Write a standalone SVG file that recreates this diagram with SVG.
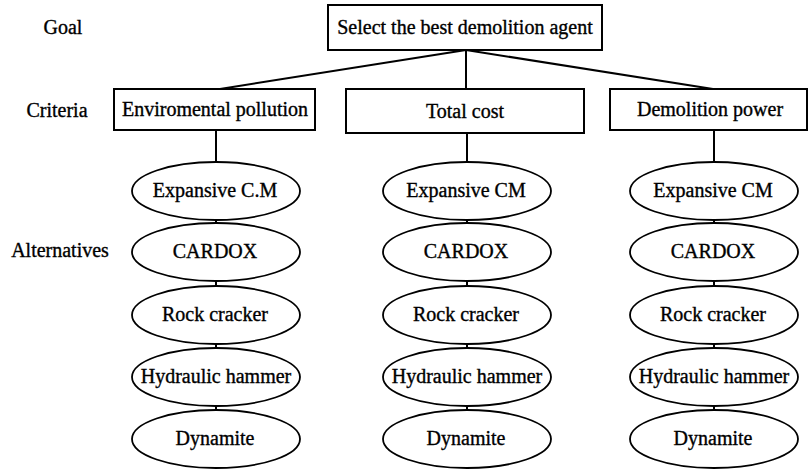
<svg xmlns="http://www.w3.org/2000/svg" width="812" height="471" viewBox="0 0 812 471">
<style>
text{font-family:"Liberation Serif","Times New Roman",serif;font-size:20px;fill:#000;text-anchor:middle;stroke:#000;stroke-width:0.35}
.box{fill:#fff;stroke:#000;stroke-width:2}
.ell{fill:#fff;stroke:#000;stroke-width:1.8}
.con line{stroke:#000;stroke-width:2}
</style>
<rect width="812" height="471" fill="#fff"/>
<g id="level-labels">
<text x="63" y="34">Goal</text>
<text x="57" y="117">Criteria</text>
<text x="60" y="257">Alternatives</text>
</g>
<g class="con" id="connectors">
<line x1="466" y1="50" x2="220" y2="89"/>
<line x1="466" y1="50" x2="466" y2="89"/>
<line x1="466" y1="50" x2="713" y2="89"/>
<line x1="216" y1="130" x2="216" y2="162"/>
<line x1="467" y1="133" x2="467" y2="162"/>
<line x1="714" y1="130" x2="714" y2="162"/>
<line x1="216" y1="219" x2="216" y2="224"/>
<line x1="216" y1="281" x2="216" y2="287"/>
<line x1="216" y1="344" x2="216" y2="349"/>
<line x1="216" y1="406" x2="216" y2="411"/>
<line x1="467" y1="219" x2="467" y2="224"/>
<line x1="467" y1="281" x2="467" y2="287"/>
<line x1="467" y1="344" x2="467" y2="349"/>
<line x1="467" y1="406" x2="467" y2="411"/>
<line x1="714" y1="219" x2="714" y2="224"/>
<line x1="714" y1="281" x2="714" y2="287"/>
<line x1="714" y1="344" x2="714" y2="349"/>
<line x1="714" y1="406" x2="714" y2="411"/>
</g>
<g id="goal"><rect class="box" x="328" y="5" width="274" height="45"/><text x="465" y="34">Select the best demolition agent</text></g>
<g id="crit-env"><rect class="box" x="114" y="89" width="201" height="41"/><text x="215" y="116">Enviromental pollution</text></g>
<g id="crit-cost"><rect class="box" x="346" y="89" width="238" height="44"/><text x="465" y="118">Total cost</text></g>
<g id="crit-power"><rect class="box" x="610" y="89" width="197" height="41"/><text x="710" y="116">Demolition power</text></g>

<g id="env-ecm"><ellipse class="ell" cx="216" cy="191" rx="84" ry="29"/><text x="215" y="197">Expansive C.M</text></g>
<g id="env-cardox"><ellipse class="ell" cx="216" cy="252" rx="84" ry="29"/><text x="215" y="258">CARDOX</text></g>
<g id="env-rock"><ellipse class="ell" cx="216" cy="315" rx="84" ry="29"/><text x="215" y="321">Rock cracker</text></g>
<g id="env-hyd"><ellipse class="ell" cx="216" cy="377" rx="84" ry="29"/><text x="216" y="383">Hydraulic hammer</text></g>
<g id="env-dyn"><ellipse class="ell" cx="216" cy="439" rx="84" ry="29"/><text x="215" y="445">Dynamite</text></g>

<g id="cost-ecm"><ellipse class="ell" cx="467" cy="191" rx="84" ry="29"/><text x="466" y="197">Expansive CM</text></g>
<g id="cost-cardox"><ellipse class="ell" cx="467" cy="252" rx="84" ry="29"/><text x="466" y="258">CARDOX</text></g>
<g id="cost-rock"><ellipse class="ell" cx="467" cy="315" rx="84" ry="29"/><text x="466" y="321">Rock cracker</text></g>
<g id="cost-hyd"><ellipse class="ell" cx="467" cy="377" rx="84" ry="29"/><text x="467" y="383">Hydraulic hammer</text></g>
<g id="cost-dyn"><ellipse class="ell" cx="467" cy="439" rx="84" ry="29"/><text x="466" y="445">Dynamite</text></g>

<g id="pow-ecm"><ellipse class="ell" cx="714" cy="191" rx="84" ry="29"/><text x="713" y="197">Expansive CM</text></g>
<g id="pow-cardox"><ellipse class="ell" cx="714" cy="252" rx="84" ry="29"/><text x="713" y="258">CARDOX</text></g>
<g id="pow-rock"><ellipse class="ell" cx="714" cy="315" rx="84" ry="29"/><text x="713" y="321">Rock cracker</text></g>
<g id="pow-hyd"><ellipse class="ell" cx="714" cy="377" rx="84" ry="29"/><text x="714" y="383">Hydraulic hammer</text></g>
<g id="pow-dyn"><ellipse class="ell" cx="714" cy="439" rx="84" ry="29"/><text x="713" y="445">Dynamite</text></g>
</svg>
